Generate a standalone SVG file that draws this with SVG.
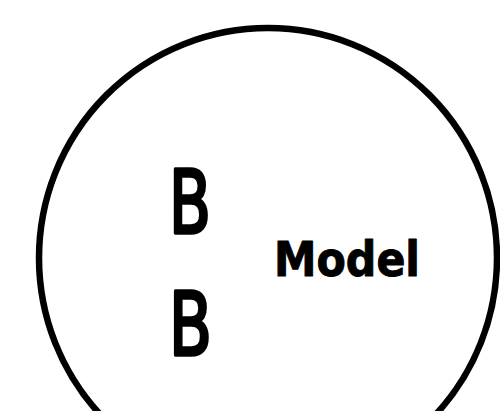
<svg xmlns="http://www.w3.org/2000/svg" width="500" height="411" viewBox="0 0 500 411">
<style>
.t{font-family:"DejaVu Sans","Liberation Sans",sans-serif;fill:#000;stroke:#000;stroke-linejoin:round}
.b{font-size:88px;stroke-width:3.5}
.m{font-size:48px;font-weight:bold;stroke-width:1}
</style>
<rect width="500" height="411" fill="#fff"/>
<g id="circle">
<ellipse cx="268" cy="258" rx="229" ry="230" fill="none" stroke="#000" stroke-width="6.5"/>
</g>
<g id="labels">
<text class="t b" x="169" y="233" textLength="42" lengthAdjust="spacingAndGlyphs">B</text>
<text class="t b" x="169" y="355" textLength="43" lengthAdjust="spacingAndGlyphs">B</text>
<text class="t m" x="274" y="276" textLength="146" lengthAdjust="spacingAndGlyphs">Model</text>
</g>
</svg>
